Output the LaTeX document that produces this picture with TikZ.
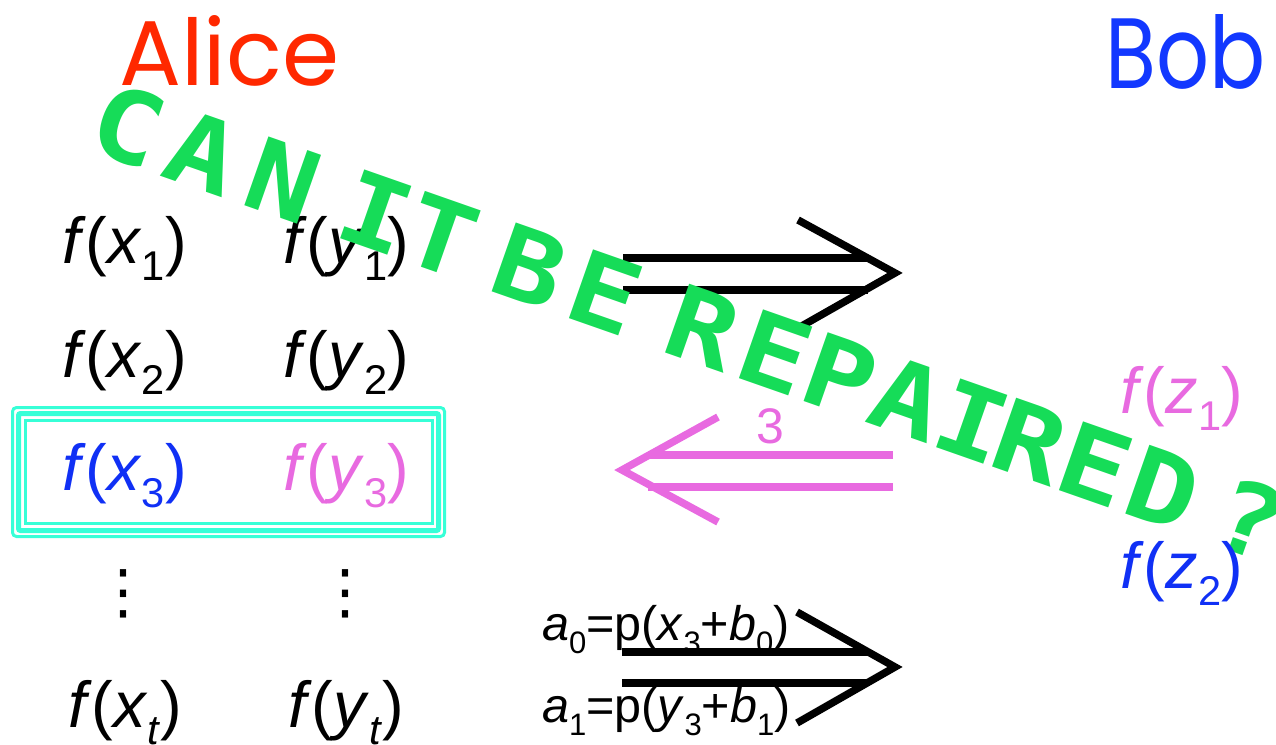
\documentclass[tikz,border=0pt]{standalone}
\usepackage{fontspec}
\setmainfont{Liberation Sans}
\newfontfamily\comicfont{Poppins}
\newfontfamily\dotfont{DejaVu Sans Mono}
\newfontfamily\symfont{DejaVu Sans}
\definecolor{grn}{HTML}{16DC58}
\definecolor{aqua}{HTML}{37FFD7}
\definecolor{pnk}{HTML}{E86AE0}
\definecolor{blu}{HTML}{1030F5}
\definecolor{bobblue}{HTML}{1238FF}
\definecolor{alred}{HTML}{FF2800}
\newcommand\lsub[1]{\raisebox{-0.27em}{\scalebox{0.64}{#1}}}
\newcommand\fof[2]{\textit{f}(\textit{#1}\lsub{#2})}
\newcommand\widech[1]{\scalebox{1.15}[1]{#1}}
\tikzset{
  lbl/.style={inner sep=0pt, anchor=base west, font=\fontsize{65}{78}\selectfont},
  smalllbl/.style={inner sep=0pt, anchor=base west, font=\fontsize{48.5}{58}\selectfont},
  glyph/.style={inner sep=0pt, text=grn, font=\dotfont\bfseries\fontsize{100}{120}\selectfont, rotate=-19.3},
  vdots/.style={inner sep=0pt, anchor=center, font=\symfont\fontsize{60}{70}\selectfont},
  arr/.style={line width=7.5pt, line join=miter, line cap=butt},
  frame/.style={draw=aqua},
}
\begin{document}
\begin{tikzpicture}[x=1pt,y=-1pt]
\useasboundingbox (0,0) rectangle (1276,744);
% titles
\node[inner sep=0pt, anchor=base west, text=alred, font=\comicfont\fontsize{92}{110}\selectfont] (alice) at (119,85) {Alice};
\node[inner sep=0pt, anchor=base east, text=bobblue, font=\comicfont\fontsize{100}{120}\selectfont] (bob) at (1266,88) {\scalebox{0.83}[1]{Bob}};
% left column
\node[lbl] (x1) at (62,263) {\fof{x}{1}};
\node[lbl] (y1) at (283,263) {\fof{y}{1}};
\node[lbl] (x2) at (62,377) {\fof{x}{2}};
\node[lbl] (y2) at (283,377) {\fof{y}{2}};
\node[lbl, text=blu] (x3) at (62,490) {\fof{x}{3}};
\node[lbl, text=pnk] (y3) at (283,490) {\fof{y}{3}};
\node[vdots] (dx) at (123,594) {⋮};
\node[vdots] (dy) at (345,594) {⋮};
\node[lbl] (xt) at (68,727) {\fof{x}{\textit{t}}};
\node[lbl] (yt) at (288,727) {\fof{y}{\textit{t}}};
% highlight frame
\draw[frame, line width=3pt, rounded corners=4pt] (12.5,407.5) rectangle (444.5,536.5);
\draw[frame, line width=5pt, rounded corners=2pt] (18.5,413.5) rectangle (438.5,530.5);
\draw[frame, line width=3pt] (25,420) rectangle (432,523.5);
% top black arrow
\coordinate (t1s) at (623,258); \coordinate (t1e) at (868,258);
\coordinate (t2s) at (623,290); \coordinate (t2e) at (868,290);
\coordinate (th1) at (798,220); \coordinate (ttip) at (895,273); \coordinate (th2) at (800,327);
\draw[arr] (t1s) -- (t1e);
\draw[arr] (t2s) -- (t2e);
\draw[arr] (th1) -- (ttip) -- (th2);
% pink arrow
\coordinate (p1s) at (893,455); \coordinate (p1e) at (648,455);
\coordinate (p2s) at (893,487); \coordinate (p2e) at (648,487);
\coordinate (ph1) at (718,417); \coordinate (ptip) at (622,470); \coordinate (ph2) at (718,522);
\draw[arr, draw=pnk] (p1s) -- (p1e);
\draw[arr, draw=pnk] (p2s) -- (p2e);
\draw[arr, draw=pnk] (ph1) -- (ptip) -- (ph2);
\node[inner sep=0pt, anchor=base, text=pnk, font=\fontsize{50}{60}\selectfont] (three) at (770,443) {3};
% bottom black arrow
\coordinate (b1s) at (622,652); \coordinate (b1e) at (868,652);
\coordinate (b2s) at (622,683); \coordinate (b2e) at (868,683);
\coordinate (bh1) at (797,612); \coordinate (btip) at (895,667); \coordinate (bh2) at (797,723);
\draw[arr] (b1s) -- (b1e);
\draw[arr] (b2s) -- (b2e);
\draw[arr] (bh1) -- (btip) -- (bh2);
\node[smalllbl] (a0) at (542,640) {\textit{a}\lsub{0}=p(\textit{x}\lsub{3}+\textit{b}\lsub{0})};
\node[smalllbl] (a1) at (542,722) {\textit{a}\lsub{1}=p(\textit{y}\lsub{3}+\textit{b}\lsub{1})};
% green overlay
\foreach \ch/\cx [count=\i] in {C/128, A/203, N/283, I/376, T/441, B/530, E/605, R/703, E/775, P/840, A/908, I/972, R/1030, E/1095, D/1163, ?/1250}
  \node[glyph] (g\i) at (\cx, {126+0.35*(\cx-128)}) {\widech{\ch}};
% Bob's values
\node[lbl, text=pnk] (z1) at (1120,413) {\fof{z}{1}};
\node[lbl, text=blu] (z2) at (1120,588) {\fof{z}{2}};
\end{tikzpicture}
\end{document}
